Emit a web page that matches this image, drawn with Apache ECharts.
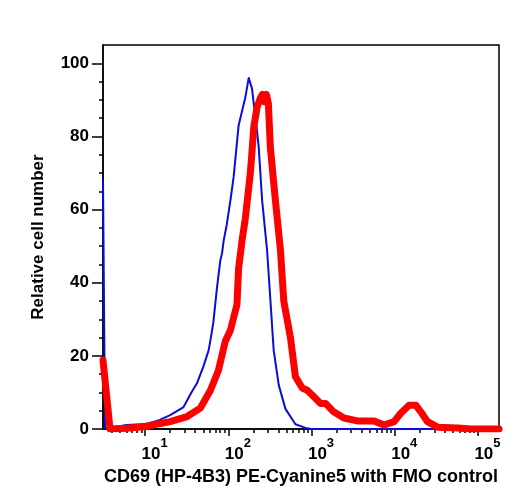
<!DOCTYPE html>
<html>
<head>
<meta charset="utf-8">
<script src="https://cdn.jsdelivr.net/npm/echarts@6/dist/echarts.min.js"></script>
<style>
  html, body { margin: 0; padding: 0; background: #fff; }
  #histo { width: 519px; height: 501px; }
</style>
</head>
<body>
<div id="histo"></div>
<script>
  // FMO control (blue)
  const fmoX = [3.12, 3.3, 4.7, 6.0, 10.5, 15, 20, 29, 36, 42, 50, 58, 61, 66, 73, 80, 84, 88, 96, 106, 116, 133, 150, 160, 176, 193, 202, 211, 232, 255, 292, 321, 351, 404, 486, 641, 847, 1000, 179000];
  const fmoY = [68, 0.3, 0.7, 1.1, 1.4, 2.5, 3.8, 6, 10, 12.5, 17, 21.5, 24.3, 29, 38.5, 46, 48, 51.5, 56, 62.5, 69, 83, 88, 90.6, 96, 93, 89, 86, 77, 62.5, 49, 35, 21.5, 12, 5.5, 1.3, 0.3, 0, 0];

  // CD69 (HP-4B3) PE-Cyanine5 stained (red)
  const cd69X = [3.12, 3.79, 6, 9.5, 20, 32, 46, 61, 76, 92, 106, 127, 133, 140, 146, 160, 167, 184, 193, 202, 222, 243, 257, 272, 287, 303, 320, 368, 423, 464, 558, 641, 773, 888, 1067, 1283, 1475, 1842, 2451, 3555, 5637, 7435, 9816, 11810, 14870, 17900, 20560, 24770, 32700, 56900, 82400, 179000];
  const cd69Y = [18.8, 0, 0.2, 0.6, 2, 3.4, 5.7, 10.6, 16, 24, 27, 34, 44, 48, 51.5, 57.5, 58, 70, 76, 82.4, 88, 90.5, 91.5, 89.5, 91.5, 89, 77, 62.5, 49, 35, 25, 14.3, 11.2, 10.6, 8.8, 7, 7, 4.7, 3, 2.2, 2.2, 1.1, 2, 4.3, 6.5, 6.5, 4.7, 2, 0.5, 0.3, 0, 0];

  const decadeTicks = [10, 100, 1000, 10000, 100000];
  const minorXTicks = [4, 5, 6, 7, 8, 9, 20, 30, 40, 50, 60, 70, 80, 90,
    200, 300, 400, 500, 600, 700, 800, 900, 2000, 3000, 4000, 5000, 6000, 7000, 8000, 9000,
    20000, 30000, 40000, 50000, 60000, 70000, 80000, 90000];
  const yTicks = [0, 20, 40, 60, 80, 100];
  const yMinorTicks = [5, 10, 15, 25, 30, 35, 45, 50, 55, 65, 70, 75, 85, 90, 95];

  const chart = echarts.init(document.getElementById('histo'));
  const font = 'Liberation Sans, Arial, Helvetica, sans-serif';

  const option = {
    animation: false,
    grid: {
      left: 103, right: 20, top: 45, bottom: 72,
      show: true, borderColor: '#000', borderWidth: 1.5, backgroundColor: 'transparent'
    },
    xAxis: [
      {
        type: 'log', logBase: 10, min: 3.12, max: 179000, position: 'bottom',
        name: 'CD69 (HP-4B3) PE-Cyanine5 with FMO control',
        nameLocation: 'middle', nameGap: 34,
        nameTextStyle: { fontFamily: font, fontWeight: 'bold', fontSize: 18, color: '#000' },
        axisLine: { lineStyle: { color: '#000', width: 1.5 } },
        axisTick: { customValues: decadeTicks, length: 7, lineStyle: { color: '#000', width: 1.5 } },
        axisLabel: {
          customValues: decadeTicks, margin: 8, padding: [0, 0, 0, 19],
          formatter: function (v) {
            return '{b|10}{s|' + Math.round(Math.log10(v)) + '}';
          },
          rich: {
            b: { fontFamily: font, fontWeight: 'bold', fontSize: 17, color: '#000', lineHeight: 26, verticalAlign: 'bottom' },
            s: { fontFamily: font, fontWeight: 'bold', fontSize: 13, color: '#000', lineHeight: 12, verticalAlign: 'top' }
          }
        },
        splitLine: { show: false }
      },
      {
        type: 'log', logBase: 10, min: 3.12, max: 179000, position: 'bottom',
        axisLine: { show: false },
        axisTick: { customValues: minorXTicks, length: 4, lineStyle: { color: '#000', width: 1.5 } },
        axisLabel: { show: false },
        splitLine: { show: false }
      }
    ],
    yAxis: [
      {
        type: 'value', min: 0, max: 105, position: 'left',
        name: 'Relative cell number', nameLocation: 'middle', nameGap: 56,
        nameTextStyle: { fontFamily: font, fontWeight: 'bold', fontSize: 17, color: '#000' },
        axisLine: { show: true, lineStyle: { color: '#000', width: 1.5 } },
        axisTick: { show: true, customValues: yTicks, length: 11, lineStyle: { color: '#000', width: 1.5 } },
        axisLabel: { customValues: yTicks, margin: 14, fontFamily: font, fontWeight: 'bold', fontSize: 17, color: '#000' },
        splitLine: { show: false }
      },
      {
        type: 'value', min: 0, max: 105, position: 'left',
        axisLine: { show: false },
        axisTick: { show: true, customValues: yMinorTicks, length: 4, lineStyle: { color: '#000', width: 1.5 } },
        axisLabel: { show: false },
        splitLine: { show: false }
      }
    ],
    series: [
      {
        name: 'FMO control', type: 'line', xAxisIndex: 0, yAxisIndex: 0,
        showSymbol: false, clip: true,
        lineStyle: { color: '#0b0bdc', width: 2, join: 'round' },
        data: fmoX.map((x, i) => [x, fmoY[i]])
      },
      {
        name: 'CD69 PE-Cyanine5', type: 'line', xAxisIndex: 0, yAxisIndex: 0,
        showSymbol: false, clip: true,
        lineStyle: { color: '#ff0000', width: 7, join: 'round', cap: 'round' },
        data: cd69X.map((x, i) => [x, cd69Y[i]])
      }
    ]
  };
  chart.setOption(option);
</script>
</body>
</html>
